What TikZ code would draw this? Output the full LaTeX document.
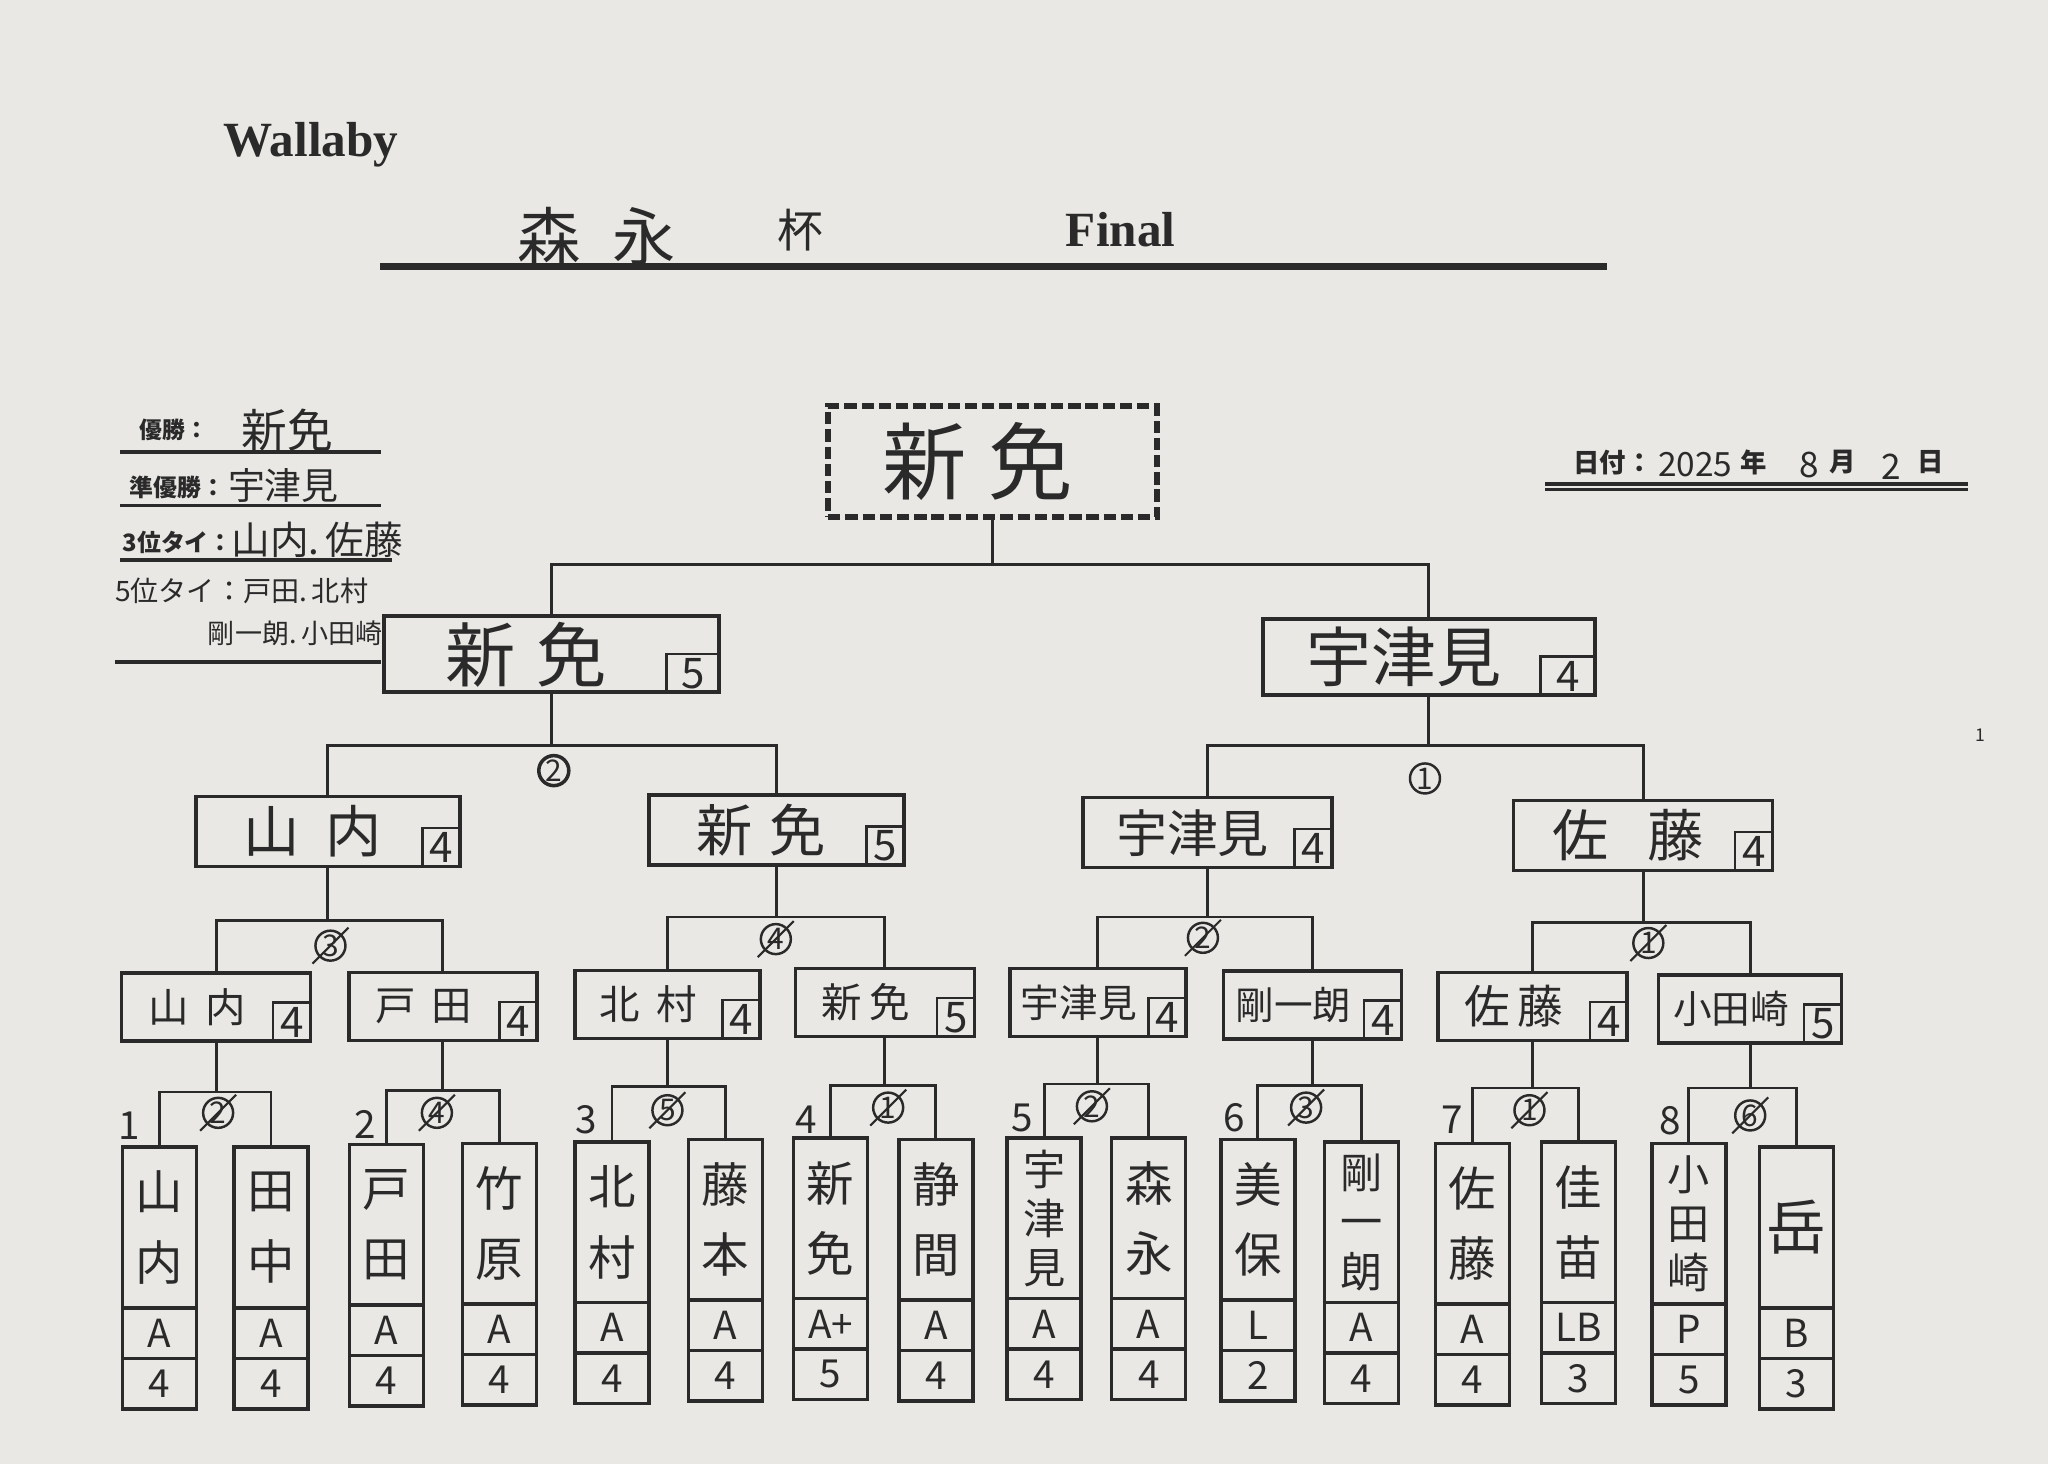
\documentclass[tikz,border=0pt]{standalone}
\usepackage{fontspec}
\setmainfont{Noto Sans CJK JP}
\newfontfamily\latinserif{Liberation Serif}
\usetikzlibrary{shapes.multipart,positioning}
\definecolor{paper}{HTML}{E9E8E5}
\definecolor{ink}{HTML}{2A2A2A}
\newcommand{\gap}[1][0.3em]{\hspace{#1}}
\newcommand{\pad}[1]{\rule{#1}{0pt}}
\newcommand{\tripfont}{\fontsize{12}{14}\selectfont}
\newcommand{\pname}[2][\fontsize{13.5}{20}\selectfont]{\parbox[c][1.57cm][c]{0.74cm}{\centering #1#2}}
\newcommand{\pcell}[1]{\parbox[c][0.47cm][c]{0.74cm}{\centering\fontsize{11}{11}\selectfont #1}}
\tikzset{
  link/.style={draw=ink,line width=0.8pt},
  infoline/.style={draw=ink,line width=1.1pt},
  handtxt/.style={font=\fontsize{#1}{#1}\selectfont},
  printed/.style={font=\bfseries\fontsize{#1}{#1}\selectfont},
  champbox/.style={draw=ink,line width=1.7pt,dash pattern=on 3.5pt off 1.4pt,inner sep=0pt,
    minimum width=3.29cm,minimum height=1.11cm,font=\fontsize{24}{24}\selectfont},
  finalbox/.style={draw=ink,line width=1.1pt,inner sep=0pt,minimum width=3.35cm,minimum height=0.76cm,
    font=\fontsize{20}{20}\selectfont},
  roundbox/.style={draw=ink,line width=1pt,inner sep=0pt,minimum width=2.58cm,minimum height=0.70cm,
    font=\fontsize{16}{16}\selectfont},
  winbox/.style={draw=ink,line width=1pt,inner sep=0pt,minimum width=1.86cm,minimum height=0.68cm,
    font=\fontsize{11.5}{11.5}\selectfont},
  scorebox/.style={draw=ink,line width=0.7pt,inner sep=0pt,anchor=south east,minimum width=0.38cm,
    minimum height=0.39cm,font=\fontsize{12}{12}\selectfont},
  player/.style={draw=ink,line width=1pt,rectangle split,rectangle split parts=3,inner sep=0pt,anchor=north},
  cnum/.style={draw=ink,circle,line width=0.7pt,minimum size=0.3cm,inner sep=0pt,font=\fontsize{8.5}{8.5}\selectfont},
  seed/.style={font=\fontsize{11}{11}\selectfont}
}

\begin{document}
\begin{tikzpicture}[x=0.0130612cm,y=-0.0130612cm,every node/.append style={text=ink}]
\fill[paper] (0,0) rectangle (1568,1121);

% heading
\node[font=\latinserif\bfseries\fontsize{14}{14}\selectfont] (club) at (238,111) {Wallaby};
\node[handtxt=18] (cup) at (457,181) {森\gap[0.5em]永};
\node[handtxt=13] (hai) at (613,176) {杯};
\node[font=\latinserif\bfseries\fontsize{14}{14}\selectfont] (fin) at (858,176) {Final};
\draw[ink,line width=1.8pt] (291,204) -- (1230,204);

% results
\node[printed=6.5] (lab1) at (133,329) {優勝：};
\node[handtxt=13] (res1) at (220,329) {新免};
\draw[infoline] (92,346) -- (292,346);
\node[printed=6.8] (lab2) at (136,373) {準優勝：};
\node[handtxt=10.5] (res2) at (217,372) {宇津見};
\draw[infoline] (92,387) -- (292,387);
\node[printed=6.8] (lab3) at (136,415) {3位タイ：};
\node[handtxt=11] (res3) at (243,413) {山内.\,佐藤};
\draw[infoline] (92,429) -- (300,429);
\node[handtxt=8] (res4) at (185,452) {5位タイ：戸田.\,北村};
\node[handtxt=7.7] (res5) at (226,485) {剛一朗.\,小田崎};
\draw[infoline] (88,507) -- (292,507);

% date
\node[printed=7.5] (datelab) at (1235,354) {日付：};
\node[handtxt=9.5] (yr) at (1298,356) {2025};
\node[printed=7.5] (nen) at (1343,354) {年};
\node[handtxt=10] (mon) at (1385,356) {8};
\node[printed=7.5] (tsuki) at (1411,354) {月};
\node[handtxt=10] (day) at (1448,357) {2};
\node[printed=7.5] (hi) at (1478,354) {日};
\draw[ink,line width=1.2pt] (1183,370.5) -- (1507,370.5);
\draw[ink,line width=0.9pt] (1183,375) -- (1507,375);
\node[handtxt=5] (page) at (1516,563) {1};

% champion and final
\node[champbox] (champ) at (760,353.5) {新\gap[0.25em]免\pad{0.3cm}};
\node[finalbox] (f1) at (422,501) {新\gap[0.3em]免\pad{0.5cm}};
\node[scorebox,minimum width=0.53cm] (f1s) at (f1.south east) {5};
\node[finalbox,minimum width=3.32cm,font=\fontsize{18.5}{18.5}\selectfont] (f2) at (1094,503) {宇津見\pad{0.5cm}};
\node[scorebox,minimum width=0.55cm] (f2s) at (f2.south east) {4};

% semi finals
\node[roundbox,minimum width=2.64cm] (s1) at (251,636.5) {山\gap[0.45em]内\pad{0.3cm}};
\node[scorebox] (s1s) at (s1.south east) {4};
\node[roundbox,minimum width=2.55cm] (s2) at (594.5,635.5) {新\gap[0.3em]免\pad{0.3cm}};
\node[scorebox] (s2s) at (s2.south east) {5};
\node[roundbox,minimum width=2.49cm,font=\fontsize{14.5}{14.5}\selectfont] (s3) at (924.5,637.5) {宇津見\pad{0.3cm}};
\node[scorebox] (s3s) at (s3.south east) {4};
\node[roundbox,minimum width=2.59cm] (s4) at (1258,639.5) {佐\gap[0.7em]藤\pad{0.3cm}};
\node[scorebox] (s4s) at (s4.south east) {4};

% quarter finals
\node[winbox,minimum width=1.89cm] (w1) at (165.5,771) {山\gap[0.4em]内\pad{0.38cm}};
\node[scorebox] (w1s) at (w1.south east) {4};
\node[winbox,minimum width=1.88cm] (w2) at (339,770.5) {戸\gap[0.4em]田\pad{0.38cm}};
\node[scorebox] (w2s) at (w2.south east) {4};
\node[winbox,minimum width=1.85cm] (w3) at (511,769) {北\gap[0.4em]村\pad{0.38cm}};
\node[scorebox] (w3s) at (w3.south east) {4};
\node[winbox,minimum width=1.79cm] (w4) at (677.5,767.5) {新\gap[0.2em]免\pad{0.38cm}};
\node[scorebox] (w4s) at (w4.south east) {5};
\node[winbox,minimum width=1.76cm,font=\fontsize{11}{11}\selectfont] (w5) at (840.5,767.5) {宇津見\pad{0.38cm}};
\node[scorebox] (w5s) at (w5.south east) {4};
\node[winbox,minimum width=1.78cm,font=\fontsize{11}{11}\selectfont] (w6) at (1005,769.5) {剛一朗\pad{0.38cm}};
\node[scorebox] (w6s) at (w6.south east) {4};
\node[winbox,minimum width=1.89cm,font=\fontsize{13}{13}\selectfont] (w7) at (1173.5,770.5) {佐\gap[0.15em]藤\pad{0.38cm}};
\node[scorebox] (w7s) at (w7.south east) {4};
\node[winbox,minimum width=1.83cm,font=\fontsize{11}{11}\selectfont] (w8) at (1340,772.5) {小田崎\pad{0.38cm}};
\node[scorebox] (w8s) at (w8.south east) {5};

% players
\node[player] (p1) at (122,877) {\pname{山\\内}\nodepart{two}\pcell{A}\nodepart{three}\pcell{4}};
\node[player] (p2) at (207.5,877) {\pname{田\\中}\nodepart{two}\pcell{A}\nodepart{three}\pcell{4}};
\node[player] (p3) at (296,875) {\pname{戸\\田}\nodepart{two}\pcell{A}\nodepart{three}\pcell{4}};
\node[player] (p4) at (382.5,874) {\pname{竹\\原}\nodepart{two}\pcell{A}\nodepart{three}\pcell{4}};
\node[player] (p5) at (468.5,873) {\pname{北\\村}\nodepart{two}\pcell{A}\nodepart{three}\pcell{4}};
\node[player] (p6) at (555.5,871) {\pname{藤\\本}\nodepart{two}\pcell{A}\nodepart{three}\pcell{4}};
\node[player] (p7) at (636,870) {\pname{新\\免}\nodepart{two}\pcell{A+}\nodepart{three}\pcell{5}};
\node[player] (p8) at (716.5,871) {\pname{静\\間}\nodepart{two}\pcell{A}\nodepart{three}\pcell{4}};
\node[player] (p9) at (799.5,870) {\pname[\tripfont]{宇\\津\\見}\nodepart{two}\pcell{A}\nodepart{three}\pcell{4}};
\node[player] (p10) at (879.5,870) {\pname{森\\永}\nodepart{two}\pcell{A}\nodepart{three}\pcell{4}};
\node[player] (p11) at (963,871) {\pname{美\\保}\nodepart{two}\pcell{L}\nodepart{three}\pcell{2}};
\node[player] (p12) at (1042.5,873) {\pname[\tripfont]{剛\\一\\朗}\nodepart{two}\pcell{A}\nodepart{three}\pcell{4}};
\node[player] (p13) at (1127.5,874) {\pname{佐\\藤}\nodepart{two}\pcell{A}\nodepart{three}\pcell{4}};
\node[player] (p14) at (1208.5,873) {\pname{佳\\苗}\nodepart{two}\pcell{LB}\nodepart{three}\pcell{3}};
\node[player] (p15) at (1293,874) {\pname[\tripfont]{小\\田\\崎}\nodepart{two}\pcell{P}\nodepart{three}\pcell{5}};
\node[player] (p16) at (1375.5,877) {\pname[\fontsize{17}{17}\selectfont]{岳}\nodepart{two}\pcell{B}\nodepart{three}\pcell{3}};

% seeds
\node[seed] (n1) at (99,862) {1};
\node[seed] (n2) at (279.5,861) {2};
\node[seed] (n3) at (449,857) {3};
\node[seed] (n4) at (617,857) {4};
\node[seed] (n5) at (783,856) {5};
\node[seed] (n6) at (945,856) {6};
\node[seed] (n7) at (1112,857) {7};
\node[seed] (n8) at (1279,858) {8};

% bracket
\coordinate (j0) at (760,432);
\draw[link] (champ.south) -- (j0) (f1.north) |- (j0) -| (f2.north);
\coordinate (jf1) at (422,571);
\draw[link] (f1.south) -- (jf1) (s1.north) |- (jf1) -| (s2.north);
\coordinate (jf2) at (1094,571);
\draw[link] (f2.south) -- (jf2) (s3.north) |- (jf2) -| (s4.north);
\coordinate (js1) at (251,705);
\draw[link] (s1.south) -- (js1) (w1.north) |- (js1) -| (w2.north);
\coordinate (js2) at (594.5,702);
\draw[link] (s2.south) -- (js2) (w3.north) |- (js2) -| (w4.north);
\coordinate (js3) at (924.5,702);
\draw[link] (s3.south) -- (js3) (w5.north) |- (js3) -| (w6.north);
\coordinate (js4) at (1258,706);
\draw[link] (s4.south) -- (js4) (w7.north) |- (js4) -| (w8.north);
\coordinate (jw1) at (165.5,836);
\draw[link] (w1.south) -- (jw1) (p1.north) |- (jw1) -| (p2.north);
\coordinate (jw2) at (339,835);
\draw[link] (w2.south) -- (jw2) (p3.north) |- (jw2) -| (p4.north);
\coordinate (jw3) at (511,832);
\draw[link] (w3.south) -- (jw3) (p5.north) |- (jw3) -| (p6.north);
\coordinate (jw4) at (677.5,831);
\draw[link] (w4.south) -- (jw4) (p7.north) |- (jw4) -| (p8.north);
\coordinate (jw5) at (840.5,830);
\draw[link] (w5.south) -- (jw5) (p9.north) |- (jw5) -| (p10.north);
\coordinate (jw6) at (1005,831);
\draw[link] (w6.south) -- (jw6) (p11.north) |- (jw6) -| (p12.north);
\coordinate (jw7) at (1173.5,833);
\draw[link] (w7.south) -- (jw7) (p13.north) |- (jw7) -| (p14.north);
\coordinate (jw8) at (1340,833);
\draw[link] (w8.south) -- (jw8) (p15.north) |- (jw8) -| (p16.north);

% court numbers
\node[cnum,line width=1pt] (mf1) at (424,590) {2};
\node[cnum] (mf2) at (1091,596) {1};
\node[cnum] (ms1) at (253,724) {3};
\node[cnum] (ms2) at (594,719) {4};
\node[cnum] (ms3) at (921,718) {2};
\node[cnum] (ms4) at (1262,722) {1};
\node[cnum] (mw1) at (167,852) {2};
\node[cnum] (mw2) at (334.5,852) {4};
\node[cnum] (mw3) at (511,850) {5};
\node[cnum] (mw4) at (680,848) {1};
\node[cnum] (mw5) at (836,847) {2};
\node[cnum] (mw6) at (1000,848) {3};
\node[cnum] (mw7) at (1171,850) {1};
\node[cnum] (mw8) at (1340,854) {6};
\foreach \m in {ms1,ms2,ms3,ms4,mw1,mw2,mw3,mw4,mw5,mw6,mw7,mw8}
  \draw[ink,line width=0.6pt] ([shift={(5,-5)}]\m.north east) -- ([shift={(-5,5)}]\m.south west);
\end{tikzpicture}
\end{document}
